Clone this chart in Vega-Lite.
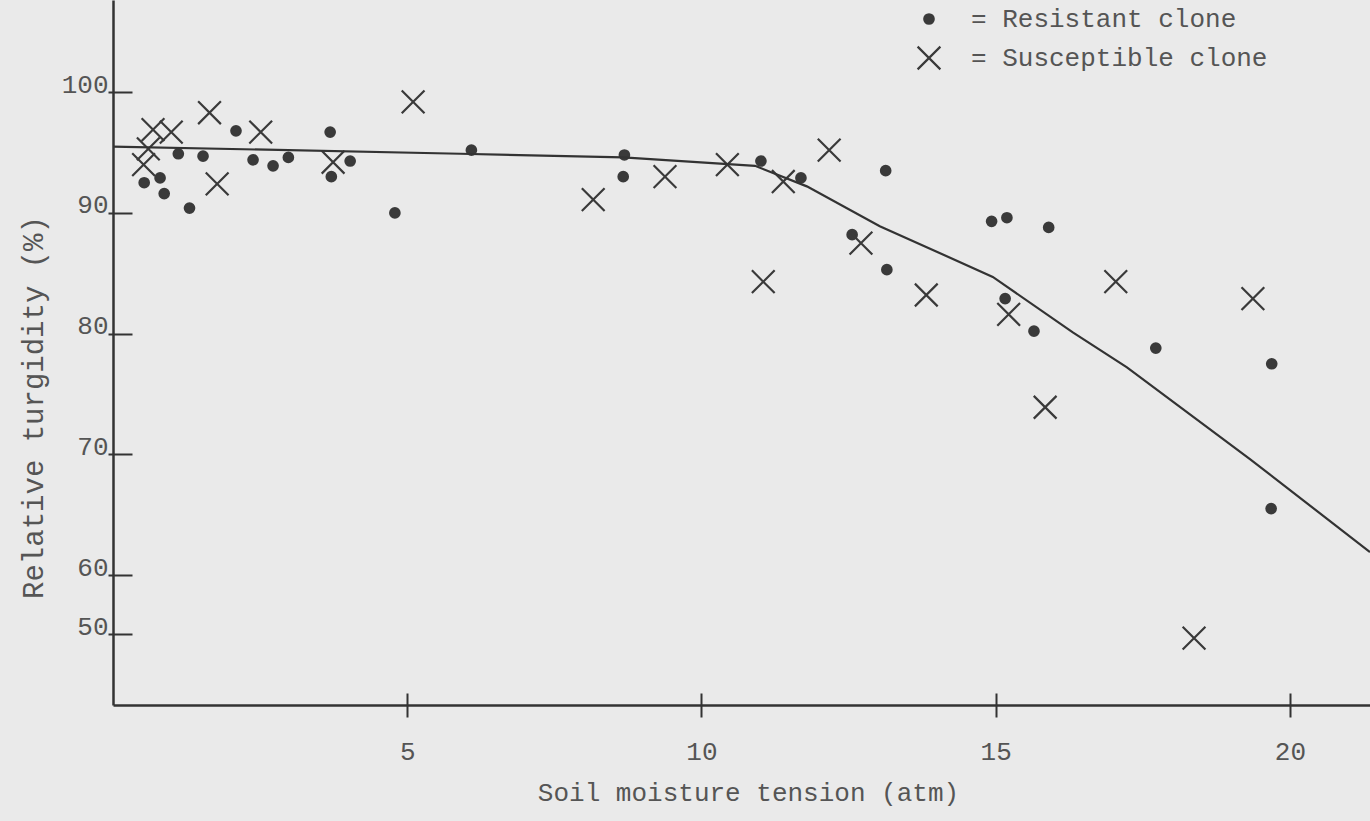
{
  "$schema": "https://vega.github.io/schema/vega-lite/v6.json",
  "width": 1257,
  "height": 705,
  "autosize": {"type": "none"},
  "padding": {"left": 113, "top": 0, "right": 0, "bottom": 116},
  "background": "#eaeaea",
  "config": {"view": {"stroke": null}, "font": "Liberation Mono", "axis": {"grid": false}},
  "datasets": {
    "obs": [
      {"clone": "Resistant clone", "tension": 0.53, "turgidity": 92.5},
      {"clone": "Resistant clone", "tension": 0.80, "turgidity": 92.9},
      {"clone": "Resistant clone", "tension": 0.87, "turgidity": 91.6},
      {"clone": "Resistant clone", "tension": 1.11, "turgidity": 94.9},
      {"clone": "Resistant clone", "tension": 1.30, "turgidity": 90.4},
      {"clone": "Resistant clone", "tension": 1.53, "turgidity": 94.7},
      {"clone": "Resistant clone", "tension": 2.09, "turgidity": 96.8},
      {"clone": "Resistant clone", "tension": 2.38, "turgidity": 94.4},
      {"clone": "Resistant clone", "tension": 2.72, "turgidity": 93.9},
      {"clone": "Resistant clone", "tension": 2.98, "turgidity": 94.6},
      {"clone": "Resistant clone", "tension": 3.69, "turgidity": 96.7},
      {"clone": "Resistant clone", "tension": 3.71, "turgidity": 93.0},
      {"clone": "Resistant clone", "tension": 4.03, "turgidity": 94.3},
      {"clone": "Resistant clone", "tension": 4.79, "turgidity": 90.0},
      {"clone": "Resistant clone", "tension": 6.09, "turgidity": 95.2},
      {"clone": "Resistant clone", "tension": 8.69, "turgidity": 94.8},
      {"clone": "Resistant clone", "tension": 8.67, "turgidity": 93.0},
      {"clone": "Resistant clone", "tension": 11.01, "turgidity": 94.3},
      {"clone": "Resistant clone", "tension": 11.69, "turgidity": 92.9},
      {"clone": "Resistant clone", "tension": 13.13, "turgidity": 93.5},
      {"clone": "Resistant clone", "tension": 12.56, "turgidity": 88.2},
      {"clone": "Resistant clone", "tension": 13.15, "turgidity": 85.3},
      {"clone": "Resistant clone", "tension": 14.93, "turgidity": 89.3},
      {"clone": "Resistant clone", "tension": 15.19, "turgidity": 89.6},
      {"clone": "Resistant clone", "tension": 15.90, "turgidity": 88.8},
      {"clone": "Resistant clone", "tension": 15.16, "turgidity": 82.9},
      {"clone": "Resistant clone", "tension": 15.65, "turgidity": 80.2},
      {"clone": "Resistant clone", "tension": 17.72, "turgidity": 78.8},
      {"clone": "Resistant clone", "tension": 19.69, "turgidity": 77.5},
      {"clone": "Resistant clone", "tension": 19.68, "turgidity": 65.5},
      {"clone": "Susceptible clone", "tension": 0.52, "turgidity": 94.0},
      {"clone": "Susceptible clone", "tension": 0.60, "turgidity": 95.3},
      {"clone": "Susceptible clone", "tension": 0.68, "turgidity": 96.9},
      {"clone": "Susceptible clone", "tension": 0.99, "turgidity": 96.7},
      {"clone": "Susceptible clone", "tension": 1.64, "turgidity": 98.3},
      {"clone": "Susceptible clone", "tension": 1.77, "turgidity": 92.4},
      {"clone": "Susceptible clone", "tension": 2.51, "turgidity": 96.7},
      {"clone": "Susceptible clone", "tension": 3.74, "turgidity": 94.2},
      {"clone": "Susceptible clone", "tension": 5.10, "turgidity": 99.2},
      {"clone": "Susceptible clone", "tension": 8.16, "turgidity": 91.1},
      {"clone": "Susceptible clone", "tension": 9.38, "turgidity": 93.0},
      {"clone": "Susceptible clone", "tension": 10.44, "turgidity": 94.0},
      {"clone": "Susceptible clone", "tension": 11.39, "turgidity": 92.6},
      {"clone": "Susceptible clone", "tension": 12.17, "turgidity": 95.2},
      {"clone": "Susceptible clone", "tension": 11.05, "turgidity": 84.3},
      {"clone": "Susceptible clone", "tension": 12.71, "turgidity": 87.5},
      {"clone": "Susceptible clone", "tension": 13.82, "turgidity": 83.2},
      {"clone": "Susceptible clone", "tension": 15.22, "turgidity": 81.6},
      {"clone": "Susceptible clone", "tension": 15.84, "turgidity": 73.9},
      {"clone": "Susceptible clone", "tension": 17.04, "turgidity": 84.3},
      {"clone": "Susceptible clone", "tension": 19.37, "turgidity": 82.9},
      {"clone": "Susceptible clone", "tension": 18.37, "turgidity": 49.3}
    ],
    "fit": [
      {"tension": 0, "turgidity": 95.5},
      {"tension": 5.9, "turgidity": 94.9},
      {"tension": 8.67, "turgidity": 94.6},
      {"tension": 10.91, "turgidity": 93.9},
      {"tension": 11.79, "turgidity": 92.2},
      {"tension": 13.03, "turgidity": 88.9},
      {"tension": 14.95, "turgidity": 84.7},
      {"tension": 16.31, "turgidity": 80.1},
      {"tension": 17.23, "turgidity": 77.2},
      {"tension": 19.32, "turgidity": 69.6},
      {"tension": 21.36, "turgidity": 61.9}
    ]
  },
  "layer": [
    {
      "data": {"name": "obs"},
      "mark": {"type": "point", "strokeWidth": 2.2, "opacity": 1, "size": 90},
      "encoding": {
        "x": {
          "field": "tension", "type": "quantitative",
          "scale": {"domain": [0, 21.36], "nice": false, "zero": false},
          "axis": {
            "orient": "bottom",
            "title": "Soil moisture tension (atm)",
            "domain": true, "domainColor": "#333333", "domainWidth": 2.5,
            "ticks": false, "labels": false,
            "titleFont": "Liberation Mono", "titleFontSize": 26, "titleFontWeight": "normal",
            "titleColor": "#555555", "titleX": 635, "titleY": 95,
            "titleBaseline": "alphabetic", "titleAlign": "center"
          }
        },
        "y": {
          "field": "turgidity", "type": "quantitative",
          "scale": {"domain": [38, 50, 60, 107.64], "range": [705, 634, 575, 0], "nice": false, "zero": false},
          "axis": {
            "orient": "left",
            "title": "Relative turgidity (%)",
            "domain": true, "domainColor": "#333333", "domainWidth": 2.5,
            "ticks": false, "labels": false,
            "titleFont": "Liberation Mono", "titleFontSize": 29, "titleFontWeight": "normal",
            "titleColor": "#555555", "titleX": -71, "titleY": 407,
            "titleBaseline": "alphabetic", "titleAlign": "center", "titleAngle": 270
          }
        },
        "shape": {
          "field": "clone", "type": "nominal",
          "scale": {"domain": ["Resistant clone", "Susceptible clone"], "range": ["circle", "M-2.4,-2.4L2.4,2.4M-2.4,2.4L2.4,-2.4"]},
          "legend": {
            "title": null, "orient": "none", "legendX": 803, "legendY": 6,
            "labelExpr": "'= ' + datum.label", "labelFont": "Liberation Mono", "labelFontSize": 26,
            "labelColor": "#555555", "labelOffset": 29, "labelLimit": 500, "symbolSize": 90, "symbolStrokeWidth": 2.2,
            "rowPadding": 10, "padding": 0
          }
        },
        "fill": {
          "field": "clone", "type": "nominal",
          "scale": {"domain": ["Resistant clone", "Susceptible clone"], "range": ["#3a3a3a", "transparent"]},
          "legend": {
            "title": null, "orient": "none", "legendX": 803, "legendY": 6,
            "labelExpr": "'= ' + datum.label", "labelFont": "Liberation Mono", "labelFontSize": 26,
            "labelColor": "#555555", "labelOffset": 29, "labelLimit": 500, "symbolSize": 90, "symbolStrokeWidth": 2.2,
            "rowPadding": 10, "padding": 0
          }
        },
        "stroke": {
          "field": "clone", "type": "nominal",
          "scale": {"domain": ["Resistant clone", "Susceptible clone"], "range": ["#3a3a3a", "#3a3a3a"]},
          "legend": {
            "title": null, "orient": "none", "legendX": 803, "legendY": 6,
            "labelExpr": "'= ' + datum.label", "labelFont": "Liberation Mono", "labelFontSize": 26,
            "labelColor": "#555555", "labelOffset": 29, "labelLimit": 500, "symbolSize": 90, "symbolStrokeWidth": 2.2,
            "rowPadding": 10, "padding": 0
          }
        }
      }
    },
    {
      "data": {"name": "fit"},
      "mark": {"type": "line", "color": "#333333", "strokeWidth": 2.2},
      "encoding": {
        "x": {
          "field": "tension", "type": "quantitative",
          "axis": {
            "orient": "bottom",
            "title": null, "domain": false, "values": [5, 10, 15, 20],
            "ticks": true, "tickSize": 24, "tickWidth": 2, "tickColor": "#333333", "offset": -12,
            "labelPadding": 21, "labelFont": "Liberation Mono", "labelFontSize": 26,
            "labelColor": "#555555", "labelBaseline": "top", "labelFlush": false
          }
        },
        "y": {
          "field": "turgidity", "type": "quantitative",
          "axis": {
            "orient": "left",
            "title": null, "domain": false, "values": [50, 60, 70, 80, 90, 100],
            "ticks": true, "tickSize": 24, "tickWidth": 2, "tickColor": "#333333", "offset": -19,
            "labelPadding": 0, "labelFont": "Liberation Mono", "labelFontSize": 26,
            "labelColor": "#555555", "labelBaseline": "alphabetic", "labelAlign": "right", "labelFlush": false
          }
        }
      }
    }
  ],
  "resolve": {"axis": {"x": "independent", "y": "independent"}}
}
